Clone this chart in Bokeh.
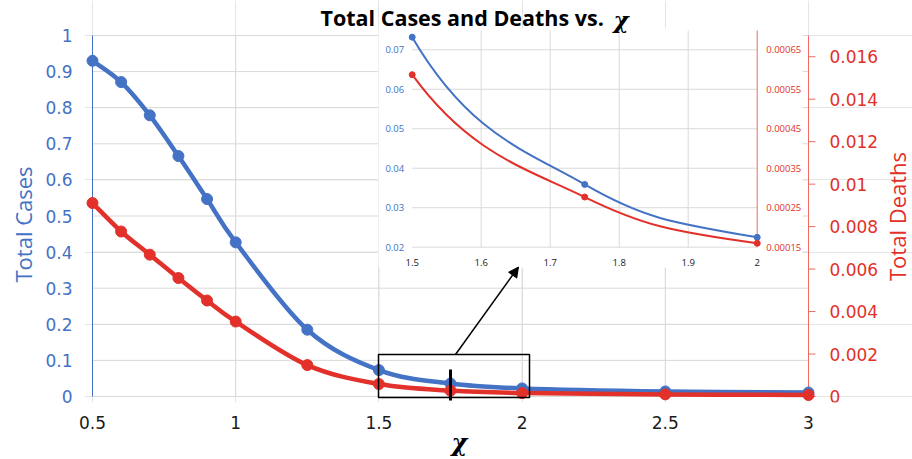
import math
from bokeh.plotting import figure
from bokeh.models import (Range1d, LinearAxis, FixedTicker, NumeralTickFormatter,
                          Label, Arrow, NormalHead, Title)
from bokeh.core.properties import value
from bokeh.embed import file_html
from bokeh.resources import INLINE

# ---------------- data ----------------
chi = [0.5, 0.6, 0.7, 0.8, 0.9, 1.0, 1.25, 1.5, 1.75, 2.0, 2.5, 3.0]
total_cases = [0.930, 0.871, 0.779, 0.666, 0.547, 0.427, 0.185, 0.0732, 0.0359, 0.0225, 0.014, 0.011]
total_deaths = [0.00911, 0.00777, 0.00668, 0.00558, 0.00452, 0.00353, 0.00148, 0.000587, 0.000277,
                0.00016, 0.0001, 0.00007]

x_ticks = [0.5, 1, 1.5, 2, 2.5, 3]
cases_ticks = [0, 0.1, 0.2, 0.3, 0.4, 0.5, 0.6, 0.7, 0.8, 0.9, 1]
deaths_ticks = [0, 0.002, 0.004, 0.006, 0.008, 0.01, 0.012, 0.014, 0.016]
deaths_tick_labels = ["0", "0.002", "0.004", "0.006", "0.008", "0.01", "0.012", "0.014", "0.016"]

inset_x_ticks = [1.5, 1.6, 1.7, 1.8, 1.9, 2]
inset_x_labels = ["1.5", "1.6", "1.7", "1.8", "1.9", "2"]
inset_cases_ticks = [0.02, 0.03, 0.04, 0.05, 0.06, 0.07]
inset_cases_labels = ["0.02", "0.03", "0.04", "0.05", "0.06", "0.07"]
inset_deaths_ticks = [0.00015, 0.00025, 0.00035, 0.00045, 0.00055, 0.00065]
inset_deaths_labels = ["0.00015", "0.00025", "0.00035", "0.00045", "0.00055", "0.00065"]

title_text = "Total Cases and Deaths vs."
title_symbol = "\u03c7"
x_label = "\u03c7"
cases_label = "Total Cases"
deaths_label = "Total Deaths"

BLUE = "#4472C4"
RED = "#E2312A"
RED_AXIS = "#EE6A62"
GRID = "#D9D9D9"

# ---------------- layout (page px) ----------------
W, H = 912, 459
FL, FR, FT, FB = 84, 912, 0, 402


def lin(a, pa, b, pb):
    k = (b - a) / (pb - pa)
    return lambda px: a + (px - pa) * k


mx = lin(0.5, 92, 3.0, 808)               # main x
my = lin(0.0, 396, 1.0, 35)               # total cases
mdy = lin(0.0, 396, 0.017, 35)            # total deaths
ix = lin(1.5, 411.7, 2.0, 756.7)          # inset x
iy = lin(0.02, 246.7, 0.07, 49.3)         # inset cases
idy = lin(0.00015, 246.7, 0.00065, 49.3)  # inset deaths

p = figure(width=W, height=H,
           x_range=Range1d(mx(FL), mx(FR)), y_range=Range1d(my(FB), my(FT)),
           output_backend="svg", toolbar_location=None,
           x_axis_location=None, y_axis_location=None,
           min_border_left=FL, min_border_right=W - FR,
           min_border_top=FT, min_border_bottom=H - FB,
           outline_line_color=None, background_fill_color="white",
           border_fill_color="white")
p.extra_x_ranges = {"ix": Range1d(ix(FL), ix(FR))}
p.extra_y_ranges = {"deaths": Range1d(mdy(FB), mdy(FT)),
                    "iy": Range1d(iy(FB), iy(FT)),
                    "idy": Range1d(idy(FB), idy(FT))}


def style_axis(ax, color, size, standoff):
    ax.axis_line_color = None
    ax.major_tick_line_color = None
    ax.minor_tick_line_color = None
    ax.major_tick_out = 0
    ax.major_tick_in = 0
    ax.minor_tick_out = 0
    ax.minor_tick_in = 0
    ax.major_label_text_font = "DejaVu Sans"
    ax.major_label_text_font_size = size
    ax.major_label_text_color = color
    ax.major_label_standoff = standoff


left = LinearAxis(ticker=FixedTicker(ticks=cases_ticks),
                  formatter=NumeralTickFormatter(format="0.[0]"))
style_axis(left, BLUE, "17px", 12)
p.add_layout(left, "left")
p.add_layout(Title(text=cases_label, align="left", offset=120, standoff=6,
                   vertical_align="top",
                   text_font="Open Sans", text_font_size="22px", text_font_style="normal",
                   text_color=BLUE), "left")

bottom = LinearAxis(ticker=FixedTicker(ticks=x_ticks),
                    formatter=NumeralTickFormatter(format="0.[0]"))
style_axis(bottom, "#1a1a1a", "17px", 13)
p.add_layout(bottom, "below")
p.add_layout(Title(text=x_label, align="left", offset=367, standoff=-12,
                   text_font="DejaVu Serif", text_font_size="24px",
                   text_font_style="bold italic", text_color="black"), "below")

# ---------------- main grid & axis lines ----------------
n = len(cases_ticks)
p.segment(x0=[x_ticks[0]] * n, y0=cases_ticks, x1=[x_ticks[-1]] * n, y1=cases_ticks,
          line_color=GRID, line_width=1)
vx = x_ticks[1:-1]
p.segment(x0=vx, y0=[cases_ticks[0]] * len(vx), x1=vx, y1=[cases_ticks[-1]] * len(vx),
          line_color=GRID, line_width=1)
p.segment(x0=[x_ticks[0]], y0=[cases_ticks[0]], x1=[x_ticks[0]], y1=[cases_ticks[-1]],
          line_color=BLUE, line_width=1)
# secondary (deaths) axis on the right
p.segment(x0=[x_ticks[-1]], y0=[0], x1=[x_ticks[-1]], y1=[mdy(35)],
          line_color=RED_AXIS, line_width=1, y_range_name="deaths")
nd = len(deaths_ticks)
p.segment(x0=[x_ticks[-1]] * nd, y0=deaths_ticks, x1=[mx(815)] * nd, y1=deaths_ticks,
          line_color=RED_AXIS, line_width=1, y_range_name="deaths")
p.text(x=[x_ticks[-1]] * nd, y=deaths_ticks, text=deaths_tick_labels, x_offset=21,
       text_align="left", text_baseline="middle", text_font=value("DejaVu Sans"),
       text_font_size=value("17px"), text_color=RED, y_range_name="deaths")
p.text(x=[mx(896)], y=[my(216)], text=[deaths_label], angle=math.pi / 2,
       text_align="center", text_baseline="middle", text_font=value("Open Sans"),
       text_font_size=value("22px"), text_color=RED)


# ---------------- smooth curve helpers ----------------
def bez(xs, ys):
    n = len(xs)
    out = dict(x0=[], y0=[], x1=[], y1=[], cx0=[], cy0=[], cx1=[], cy1=[])
    for i in range(n - 1):
        a = max(i - 1, 0)
        d = min(i + 2, n - 1)
        out["x0"].append(xs[i]); out["y0"].append(ys[i])
        out["x1"].append(xs[i + 1]); out["y1"].append(ys[i + 1])
        out["cx0"].append(xs[i] + (xs[i + 1] - xs[a]) / 6)
        out["cy0"].append(ys[i] + (ys[i + 1] - ys[a]) / 6)
        out["cx1"].append(xs[i + 1] - (xs[d] - xs[i]) / 6)
        out["cy1"].append(ys[i + 1] - (ys[d] - ys[i]) / 6)
    return out


def clip_bez(b, lo, hi):
    keep = [k for k in range(len(b["x0"])) if b["x0"][k] >= lo and b["x1"][k] <= hi]
    return {key: [v[k] for k in keep] for key, v in b.items()}


bc = bez(chi, total_cases)
bd = bez(chi, total_deaths)

# ---------------- inset ----------------
p.quad(left=mx(378), right=mx(802), bottom=my(267), top=my(28),
       fill_color="white", line_color=None)
ni = len(inset_cases_ticks)
p.segment(x0=[inset_x_ticks[0]] * ni, y0=inset_cases_ticks, x1=[inset_x_ticks[-1]] * ni,
          y1=inset_cases_ticks, line_color=GRID, line_width=1,
          x_range_name="ix", y_range_name="iy")
ivx = inset_x_ticks[1:-1]
p.segment(x0=ivx, y0=[inset_cases_ticks[0]] * len(ivx), x1=ivx, y1=[iy(30)] * len(ivx),
          line_color=GRID, line_width=1, x_range_name="ix", y_range_name="iy")
p.segment(x0=[inset_x_ticks[-1]], y0=[inset_cases_ticks[0]], x1=[inset_x_ticks[-1]],
          y1=[iy(30)], line_color=RED_AXIS, line_width=1,
          x_range_name="ix", y_range_name="iy")

p.text(x=[inset_x_ticks[0]] * ni, y=inset_cases_ticks, text=inset_cases_labels,
       x_offset=-8, text_align="right", text_baseline="middle",
       text_font=value("Open Sans"), text_font_size=value("9.5px"), text_color=BLUE,
       x_range_name="ix", y_range_name="iy")
p.text(x=[inset_x_ticks[-1]] * len(inset_deaths_ticks), y=inset_deaths_ticks,
       text=inset_deaths_labels, x_offset=9, text_align="left", text_baseline="middle",
       text_font=value("Open Sans"), text_font_size=value("9.5px"), text_color=RED,
       x_range_name="ix", y_range_name="idy")
p.text(x=inset_x_ticks, y=[inset_cases_ticks[0]] * len(inset_x_ticks), text=inset_x_labels,
       y_offset=15, text_align="center", text_baseline="middle",
       text_font=value("Open Sans"), text_font_size=value("9.5px"), text_color="#1a1a1a",
       x_range_name="ix", y_range_name="iy")

lo, hi = inset_x_ticks[0], inset_x_ticks[-1]
ic = clip_bez(bc, lo, hi)
idd = clip_bez(bd, lo, hi)
sel = [i for i, x in enumerate(chi) if lo <= x <= hi]
p.bezier(line_color=BLUE, line_width=2, x_range_name="ix", y_range_name="iy", **ic)
p.bezier(line_color=RED, line_width=2, x_range_name="ix", y_range_name="idy", **idd)
p.scatter(x=[chi[i] for i in sel], y=[total_cases[i] for i in sel], size=6,
          fill_color=BLUE, line_color=BLUE, x_range_name="ix", y_range_name="iy")
p.scatter(x=[chi[i] for i in sel], y=[total_deaths[i] for i in sel], size=6,
          fill_color=RED, line_color=RED, x_range_name="ix", y_range_name="idy")

# ---------------- main series ----------------
p.bezier(line_color=BLUE, line_width=4.5, line_cap="round", **bc)
p.scatter(x=chi, y=total_cases, size=11, fill_color=BLUE, line_color=BLUE)
p.bezier(line_color=RED, line_width=4.5, line_cap="round", y_range_name="deaths", **bd)
p.scatter(x=chi, y=total_deaths, size=11, fill_color=RED, line_color=RED,
          y_range_name="deaths")

# ---------------- zoom box, marker, arrow ----------------
p.quad(left=mx(378), right=mx(529), bottom=my(397), top=my(354),
       fill_color=None, line_color="black", line_width=1.5)
p.segment(x0=[chi[8]], y0=[my(400)], x1=[chi[8]], y1=[my(369)], line_color="black",
          line_width=3)
p.add_layout(Arrow(x_start=mx(455), y_start=my(354), x_end=mx(518), y_end=my(266.5),
                   line_color="black", line_width=1.5,
                   end=NormalHead(size=10, fill_color="black", line_color="black")))

# ---------------- title ----------------
p.add_layout(Label(x=mx(320), y=my(17), text=title_text, text_font="Open Sans",
                   text_font_size="21.5px", text_font_style="bold", text_color="black",
                   text_align="left", text_baseline="middle"))
p.add_layout(Label(x=mx(613), y=my(19), text=title_symbol, text_font="DejaVu Serif",
                   text_font_size="23px", text_font_style="bold italic", text_color="black",
                   text_align="left", text_baseline="middle"))

open("out.html", "w").write(file_html(p, INLINE))
